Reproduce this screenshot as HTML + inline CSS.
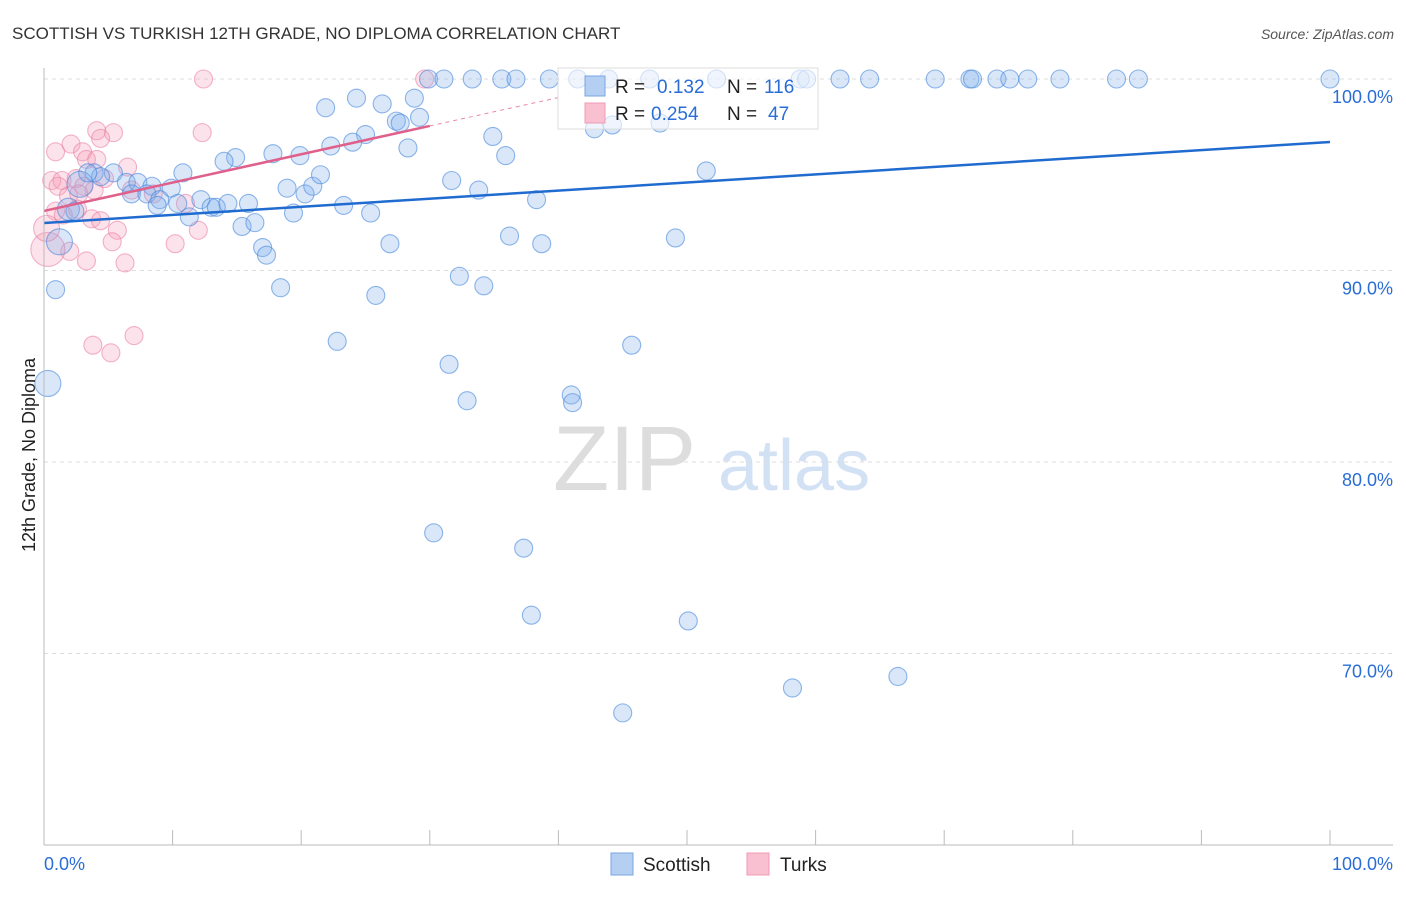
<!DOCTYPE html>
<html><head><meta charset="utf-8"><style>
body{margin:0;background:#fff;font-family:"Liberation Sans",sans-serif}
svg text{font-family:"Liberation Sans",sans-serif}
</style></head><body>
<svg width="1406" height="892">
<text x="12" y="39" font-size="17" fill="#333">SCOTTISH VS TURKISH 12TH GRADE, NO DIPLOMA CORRELATION CHART</text>
<text x="1394" y="39" font-size="14" fill="#555" font-style="italic" text-anchor="end">Source: ZipAtlas.com</text>
<g><text x="553" y="490" font-size="92" fill="#ddd" font-family="Liberation Serif, serif">ZIP</text><text x="718" y="490" font-size="72" fill="#d3e1f5">atlas</text></g>
<g id="grid"></g>
<g id="pts"></g>
<g id="lines"></g>
<g id="axes"></g>
<g>
<rect x="558" y="68" width="260" height="61" fill="rgba(255,255,255,0.6)" stroke="#ddd"/>
<rect x="585" y="76" width="20" height="20" fill="#b5cff2" stroke="#7aa6e4"/>
<text x="615" y="93" font-size="19" fill="#222">R = </text><text x="657" y="93" font-size="19" fill="#2a6dd6">0.132</text>
<text x="727" y="93" font-size="19" fill="#222">N = </text><text x="764" y="93" font-size="19" fill="#2a6dd6">116</text>
<rect x="585" y="103" width="20" height="20" fill="#f8c0d0" stroke="#f09ab4"/>
<text x="615" y="120" font-size="19" fill="#222">R = </text><text x="651" y="120" font-size="19" fill="#2a6dd6">0.254</text>
<text x="727" y="120" font-size="19" fill="#222">N = </text><text x="768" y="120" font-size="19" fill="#2a6dd6">47</text>
</g>
<text transform="translate(35,455) rotate(-90)" font-size="18" fill="#222" text-anchor="middle">12th Grade, No Diploma</text>
<g>
<rect x="611" y="853" width="22" height="22" fill="#b5cff2" stroke="#7aa6e4"/>
<text x="643" y="871" font-size="19" fill="#222">Scottish</text>
<rect x="747" y="853" width="22" height="22" fill="#f8c0d0" stroke="#f09ab4"/>
<text x="780" y="871" font-size="19" fill="#222">Turks</text>
</g>
</svg>
<script>
const blueX=[29.9,31.1,33.3,35.6,36.7,39.3,41.5,43.9,47.1,52.3,58.8,59.3,61.9,64.2,69.3,72.0,72.2,74.1,75.1,76.5,79.0,83.4,85.1,100,
21.9,24.3,26.3,28.8,27.4,27.7,29.2,28.3,25.0,24.0,22.3,19.9,17.8,14.9,14.0,10.8,5.4,3.9,4.4,6.4,7.3,8.4,9.9,6.8,8.0,9.0,8.8,10.4,12.2,13.0,13.4,14.3,15.9,11.3,15.4,16.4,19.4,18.9,20.3,20.9,21.5,23.3,25.4,17.0,17.3,18.4,26.9,25.8,31.7,33.8,34.9,35.9,38.3,36.2,38.7,32.3,34.2,42.8,44.2,47.9,51.5,49.1,22.8,31.5,32.9,41.0,41.1,45.7,30.3,37.3,37.9,50.1,45.0,58.2,66.4,0.9,0.3,1.2,2.8,1.9,2.4,3.4];
const blueY=[100,100,100,100,100,100,100,100,100,100,100,100,100,100,100,100,100,100,100,100,100,100,100,100,
98.5,99.0,98.7,99.0,97.8,97.7,98.0,96.4,97.1,96.7,96.5,96.0,96.1,95.9,95.7,95.1,95.1,95.1,94.9,94.6,94.6,94.4,94.3,94.0,94.0,93.7,93.4,93.5,93.7,93.3,93.3,93.5,93.5,92.8,92.3,92.5,93.0,94.3,94.0,94.4,95.0,93.4,93.0,91.2,90.8,89.1,91.4,88.7,94.7,94.2,97.0,96.0,93.7,91.8,91.4,89.7,89.2,97.4,97.6,97.7,95.2,91.7,86.3,85.1,83.2,83.5,83.1,86.1,76.3,75.5,72.0,71.7,66.9,68.2,68.8,89.0,84.1,91.5,94.5,93.2,93.1,95.1];
const pinkX=[12.4,29.6,12.3,4.1,5.4,4.4,2.1,0.9,3.0,3.3,4.1,6.5,0.6,1.4,2.5,4.7,1.1,3.1,3.9,1.9,2.7,6.8,8.5,0.9,2.6,3.7,4.4,11.0,12.0,10.2,5.7,5.3,2.0,3.3,6.3,3.8,5.2,7.0,0.3,0.2,1.5];
const pinkY=[100,100,97.2,97.3,97.2,96.9,96.6,96.2,96.2,95.8,95.8,95.4,94.7,94.7,94.8,94.8,94.4,94.4,94.2,93.9,94.0,94.2,94.0,93.1,93.2,92.7,92.6,93.5,92.1,91.4,92.1,91.5,91.0,90.5,90.4,86.1,85.7,86.6,91.1,92.2,92.9];
const blueTrend=[92.48,96.71];
const pinkTrend=[93.11,97.55];
const yTicks=[100,90,80,70];
const NS='http://www.w3.org/2000/svg';
const xs=v=>44+v*12.86, ys=v=>79+(100-v)*19.15;
function mk(t,a,p){const e=document.createElementNS(NS,t);for(const k in a)e.setAttribute(k,a[k]);document.getElementById(p).appendChild(e);return e;}
yTicks.forEach(t=>{
 const l=mk('line',{x1:44,x2:1393,y1:ys(t),y2:ys(t),stroke:'#ddd','stroke-dasharray':'4,4'},'grid');
 
 
 const tx=mk('text',{x:1393,y:ys(t)+24,'font-size':18,fill:'#2a6dd6','text-anchor':'end'},'axes');
 tx.textContent=t.toFixed(1)+'%';
 
 
});
const ax=mk('line',{x1:44,x2:1393,y1:845,y2:845,stroke:'#bbb'},'axes');


const ay=mk('line',{x1:44,x2:44,y1:68,y2:845,stroke:'#bbb'},'axes');


for(let i=0;i<=10;i++){const t=mk('line',{x1:xs(i*10),x2:xs(i*10),y1:830,y2:845,stroke:'#bbb'},'axes');
 
 }
const x0=mk('text',{x:44,y:870,'font-size':18,fill:'#2a6dd6'},'axes');x0.textContent='0.0%';


const x1=mk('text',{x:1393,y:870,'font-size':18,fill:'#2a6dd6','text-anchor':'end'},'axes');x1.textContent='100.0%';


pinkX.forEach((v,i)=>{const r=i==38?17:(i==39?13:9);
 const c=mk('circle',{cx:xs(v),cy:ys(pinkY[i]),r:r,fill:'rgba(245,160,185,0.3)',stroke:'rgba(235,130,165,0.6)','stroke-width':1.1},'pts');
 
 });
blueX.forEach((v,i)=>{const r=i>=blueX.length-6&&i<blueX.length-3?13:(i==blueX.length-3?11:9);
 const c=mk('circle',{cx:xs(v),cy:ys(blueY[i]),r:r,fill:'rgba(130,175,235,0.3)',stroke:'rgba(70,135,220,0.6)','stroke-width':1.1},'pts');
 
 });
const bl=mk('line',{x1:xs(0),y1:ys(blueTrend[0]),x2:xs(100),y2:ys(blueTrend[1]),stroke:'#1f6bd0','stroke-width':2.5},'lines');


const ps=(pinkTrend[1]-pinkTrend[0])/30;
const pl=mk('line',{x1:xs(0),y1:ys(pinkTrend[0]),x2:xs(30),y2:ys(pinkTrend[1]),stroke:'#e0608c','stroke-width':2.5},'lines');


const pd=mk('line',{x1:xs(30),y1:ys(pinkTrend[1]),x2:xs(40),y2:ys(pinkTrend[0]+ps*40),stroke:'#e88aaa','stroke-width':1,'stroke-dasharray':'4,4'},'lines');


</script>
</body></html>
